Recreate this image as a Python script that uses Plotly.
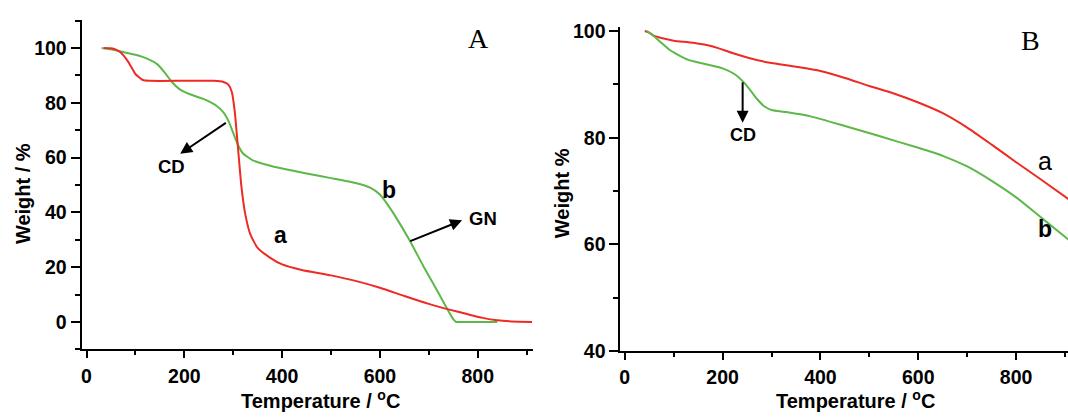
import plotly.graph_objects as go

# ---------------- data ----------------
# Panel A
a_left_temp = [36, 50, 60, 70, 85, 100, 115, 130, 200, 260, 280, 290, 297, 303, 310, 317, 325, 335,
               350, 375, 400, 440, 500, 550, 600, 650, 700, 740, 780, 810, 840, 870, 911]
a_left_wt = [100, 99.9, 99.4, 98.3, 95, 90.5, 88.3, 88, 88, 88, 87.6, 86.6, 84, 77, 63, 49, 39, 32,
             27, 23.5, 21, 19, 17, 15, 12.5, 9.5, 6.6, 4.6, 2.8, 1.5, 0.6, 0.2, 0]
b_left_temp = [31, 50, 75, 100, 125, 145, 160, 175, 190, 210, 240, 265, 280, 290, 300, 310, 320, 340,
               370, 400, 450, 500, 550, 580, 600, 615, 630, 660, 690, 720, 740, 750, 756, 770, 800, 840]
b_left_wt = [100, 99.5, 98.5, 97.5, 96, 94, 91, 87.5, 85, 83.2, 81.3, 79, 76.5, 73.5, 69, 64.5, 61.5, 59,
             57.3, 56, 54.2, 52.5, 50.7, 49, 46.5, 43, 39, 30, 20, 10.5, 4, 1, 0, 0, 0, 0]

# Panel B
a_right_temp = [41, 50, 60, 75, 100, 140, 180, 220, 260, 300, 350, 400, 450, 500, 550, 600, 650,
                700, 750, 800, 850, 908]
a_right_wt = [100, 99.7, 99.1, 98.7, 98.2, 97.8, 97.1, 95.9, 94.8, 94.0, 93.3, 92.5, 91.2, 89.7, 88.3,
              86.6, 84.6, 81.9, 78.7, 75.4, 72.2, 68.4]
b_right_temp = [45, 55, 70, 90, 110, 130, 160, 200, 225, 240, 255, 270, 285, 300, 330, 380, 450, 520,
                600, 650, 700, 750, 800, 850, 908]
b_right_wt = [100, 99.4, 98.2, 96.6, 95.5, 94.6, 93.9, 93.0, 91.9, 90.7, 89.1, 87.3, 85.9, 85.2, 84.8,
              84.0, 82.2, 80.3, 78.1, 76.6, 74.6, 71.9, 68.8, 65.1, 60.8]

x_ticks = [0, 200, 400, 600, 800]
left_y_ticks = [0, 20, 40, 60, 80, 100]
right_y_ticks = [40, 60, 80, 100]

RED = "#ee2a24"
GREEN = "#5cb848"
FONT = "Liberation Sans"
SERIF = "Liberation Serif"

fig = go.Figure()
line_kw = dict(mode="lines", line_shape="spline", hoverinfo="skip", showlegend=False)
fig.add_trace(go.Scatter(x=b_left_temp, y=b_left_wt, line=dict(color=GREEN, width=2, smoothing=0.5),
                         xaxis="x", yaxis="y", **line_kw))
fig.add_trace(go.Scatter(x=a_left_temp, y=a_left_wt, line=dict(color=RED, width=2, smoothing=0.5),
                         xaxis="x", yaxis="y", **line_kw))
fig.add_trace(go.Scatter(x=a_right_temp, y=a_right_wt, line=dict(color=RED, width=2, smoothing=0.6),
                         xaxis="x2", yaxis="y2", **line_kw))
fig.add_trace(go.Scatter(x=b_right_temp, y=b_right_wt, line=dict(color=GREEN, width=2, smoothing=0.6),
                         xaxis="x2", yaxis="y2", **line_kw))

tickfont = dict(family=FONT, size=19.5, color="black", weight="bold")
common = dict(showline=True, linecolor="black", linewidth=2, ticks="outside", tickwidth=2,
              tickcolor="black", showgrid=False, zeroline=False, tickfont=tickfont, mirror=False)
xminor = dict(dtick=100, tick0=0, ticklen=4, tickwidth=2, ticks="outside", tickcolor="black")

fig.update_layout(
    width=1068, height=420, autosize=False,
    margin=dict(l=0, r=0, t=0, b=0),
    paper_bgcolor="white", plot_bgcolor="white",
    xaxis=dict(domain=[80.7 / 1068, 532 / 1068], range=[-10, 912], anchor="y",
               tickvals=x_ticks, ticklen=7, ticklabelstandoff=1, minor=xminor, **common),
    yaxis=dict(domain=[(420 - 357.7) / 420, (420 - 13.3) / 420], range=[-10, 110.3], anchor="x",
               tickvals=left_y_ticks, ticklen=9,
               minor=dict(dtick=10, tick0=0, ticklen=5, tickwidth=2, ticks="outside", tickcolor="black"),
               **common),
    xaxis2=dict(domain=[620 / 1068, 1.0], range=[-8.8, 906], anchor="y2",
                tickvals=x_ticks, ticklen=7, ticklabelstandoff=1, minor=xminor, **common),
    yaxis2=dict(domain=[(420 - 359.3) / 420, (420 - 20.7) / 420], range=[40, 100.8], anchor="x2",
                tickvals=right_y_ticks, ticklen=9,
                minor=dict(dtick=10, tick0=40, ticklen=5, tickwidth=2, ticks="outside", tickcolor="black"),
                **common),
)

def bold(size):
    return dict(family=FONT, size=size, color="black", weight="bold")

ann = []
# axis titles
ann.append(dict(text="Temperature / <sup>o</sup>C", x=320 / 1068, y=(420 - 410.5) / 420, xref="paper",
                yref="paper", showarrow=False, font=bold(20), xanchor="center", yanchor="middle"))
ann.append(dict(text="Temperature / <sup>o</sup>C", x=855 / 1068, y=(420 - 410.5) / 420, xref="paper",
                yref="paper", showarrow=False, font=bold(20), xanchor="center", yanchor="middle"))
ann.append(dict(text="Weight / %", x=21.5 / 1068, y=(420 - 195) / 420, xref="paper", yref="paper",
                showarrow=False, font=bold(20), textangle=-90, xanchor="center", yanchor="middle"))
ann.append(dict(text="Weight %", x=561 / 1068, y=(420 - 194) / 420, xref="paper", yref="paper",
                showarrow=False, font=bold(20), textangle=-90, xanchor="center", yanchor="middle"))

# panel letters
ann.append(dict(text="A", x=802, y=103.5, xref="x", yref="y", showarrow=False,
                font=dict(family=SERIF, size=28, color="black")))
ann.append(dict(text="B", x=830, y=98.3, xref="x2", yref="y2", showarrow=False,
                font=dict(family=SERIF, size=28, color="black")))

# curve labels, panel A
ann.append(dict(text="a", x=396, y=31.6, xref="x", yref="y", showarrow=False, font=bold(23)))
ann.append(dict(text="b", x=618, y=48.3, xref="x", yref="y", showarrow=False, font=bold(23)))
ann.append(dict(text="CD", x=173, y=56.7, xref="x", yref="y", showarrow=False, font=bold(18.5)))
ann.append(dict(text="GN", x=810, y=37.8, xref="x", yref="y", showarrow=False, font=bold(18.5)))
# arrows, panel A
ann.append(dict(text="", x=191.6, y=61.4, ax=288, ay=73, xref="x", yref="y", axref="x", ayref="y",
                showarrow=True, arrowhead=2, arrowsize=1.2, arrowwidth=2, arrowcolor="black"))
ann.append(dict(text="", x=768, y=37.1, ax=659, ay=29.3, xref="x", yref="y", axref="x", ayref="y",
                showarrow=True, arrowhead=2, arrowsize=1.2, arrowwidth=2, arrowcolor="black"))

# curve labels, panel B
ann.append(dict(text="a", x=858, y=75.6, xref="x2", yref="y2", showarrow=False,
                font=dict(family=FONT, size=25, color="black")))
ann.append(dict(text="b", x=858, y=62.9, xref="x2", yref="y2", showarrow=False, font=bold(23)))
ann.append(dict(text="CD", x=241, y=80.5, xref="x2", yref="y2", showarrow=False, font=bold(18)))
ann.append(dict(text="", x=241, y=82.8, ax=241, ay=90.7, xref="x2", yref="y2", axref="x2", ayref="y2",
                showarrow=True, arrowhead=2, arrowsize=1.2, arrowwidth=2, arrowcolor="black"))

fig.update_layout(annotations=ann)
fig.write_html("out.html")
